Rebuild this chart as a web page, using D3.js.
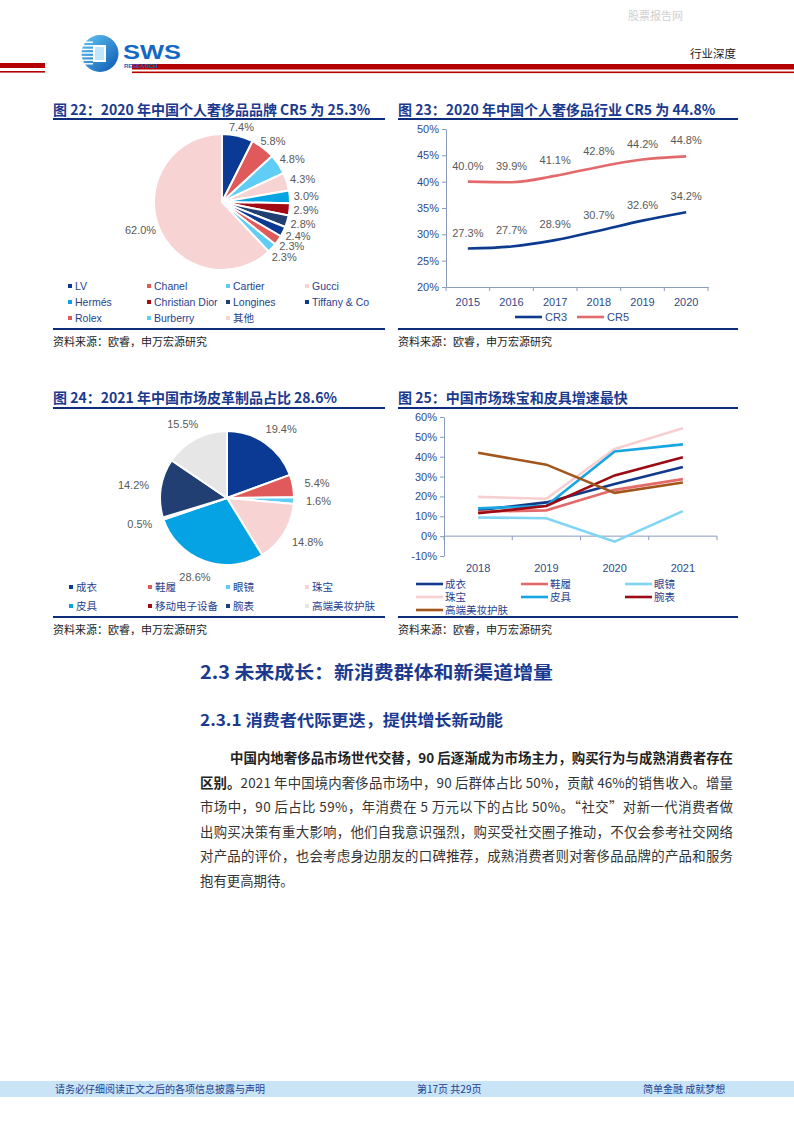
<!DOCTYPE html>
<html>
<head>
<meta charset="utf-8">
<script src="https://cdn.jsdelivr.net/npm/d3@7/dist/d3.min.js"></script>
<style>
  body { margin: 0; background: #fff; }
  svg { display: block; }
</style>
</head>
<body>
<script>
// ---- data ----
var brandNames = ["LV", "Chanel", "Cartier", "Gucci", "Hermés", "Christian Dior", "Longines", "Tiffany & Co", "Rolex", "Burberry", "其他"];
var brandShare = [7.4, 5.8, 4.8, 4.3, 3.0, 2.9, 2.8, 2.4, 2.3, 2.3, 62.0];
var brandColors = ["#0b3a94", "#e05a5c", "#5fcdf5", "#f7d3d4", "#05a3e3", "#a10a14", "#213f73", "#0b3a94", "#e05a5c", "#5fcdf5", "#f7d3d4"];

var crYears = ["2015", "2016", "2017", "2018", "2019", "2020"];
var cr3 = [27.3, 27.7, 28.9, 30.7, 32.6, 34.2];
var cr5 = [40.0, 39.9, 41.1, 42.8, 44.2, 44.8];
var crTicks = [20, 25, 30, 35, 40, 45, 50];

var catNames = ["成衣", "鞋履", "眼镜", "珠宝", "皮具", "移动电子设备", "腕表", "高端美妆护肤"];
var catShare = [19.4, 5.4, 1.6, 14.8, 28.6, 0.5, 14.2, 15.5];
var catColors = ["#0b3a94", "#e05a5c", "#5fcdf5", "#f7d3d4", "#05a3e3", "#a10a14", "#213f73", "#e6e6e6"];

var growthYears = ["2018", "2019", "2020", "2021"];
var gClothes = [13.1, 17.0, 26.2, 34.8];
var gShoes = [12.3, 13.0, 23.3, 28.7];
var gGlasses = [9.4, 9.0, -2.8, 12.6];
var gJewelry = [19.8, 18.8, 43.9, 54.3];
var gLeather = [14.0, 15.3, 42.6, 46.2];
var gWatch = [11.5, 15.2, 30.6, 39.7];
var gBeauty = [42.0, 36.0, 21.8, 27.0];
var growthTicks = [-10, 0, 10, 20, 30, 40, 50, 60];

var sourceText = "资料来源：欧睿，申万宏源研究";

// ---- page ----
var W = 794, H = 1123;
var cjk = "'Noto Sans CJK SC', 'Noto Sans', sans-serif";
var latin = "'Liberation Sans', Arial, sans-serif";
var navy = "#0c2d7a", titleBlue = "#1b3a8f", axisBlue = "#2f4a8a", labelGrey = "#595959";

var svg = d3.select("body").append("svg")
    .attr("width", W).attr("height", H);

// header
svg.append("text").attr("x", 628).attr("y", 20).text("股票报告网")
    .attr("font-family", cjk).attr("font-size", 11).attr("fill", "#d0d0d0");

svg.append("rect").attr("x", 0).attr("y", 63).attr("width", 45).attr("height", 5).attr("fill", "#b40000");
svg.append("rect").attr("x", 0).attr("y", 71).attr("width", 45).attr("height", 1.6).attr("fill", "#b40000");
svg.append("rect").attr("x", 132).attr("y", 64).attr("width", W - 132).attr("height", 5.5).attr("fill", "#b40000");
svg.append("rect").attr("x", 132).attr("y", 71.5).attr("width", W - 132).attr("height", 1.6).attr("fill", "#b40000");

var defs = svg.append("defs");
var grad = defs.append("linearGradient").attr("id", "logoGrad")
    .attr("x1", "0").attr("y1", "0").attr("x2", "1").attr("y2", "1");
grad.append("stop").attr("offset", "0").attr("stop-color", "#63c7f3");
grad.append("stop").attr("offset", "1").attr("stop-color", "#0a56b3");

var logo = svg.append("g");
logo.append("circle").attr("cx", 100).attr("cy", 53.5).attr("r", 18.5).attr("fill", "url(#logoGrad)");
logo.append("rect").attr("x", 93).attr("y", 45).attr("width", 13).attr("height", 17).attr("fill", "#ffffff");
logo.append("rect").attr("x", 95).attr("y", 47).attr("width", 9).attr("height", 13).attr("fill", "#bfe6fb");
d3.range(0, 7).forEach(function(i) {
  logo.append("rect").attr("x", 81).attr("y", 41.5 + i * 3.6).attr("width", 12).attr("height", 1.4).attr("fill", "#ffffff");
});
logo.append("text").attr("x", 123).attr("y", 59).text("SWS")
    .attr("font-family", latin).attr("font-weight", "bold").attr("font-size", 21)
    .attr("fill", "#1467c4").attr("textLength", 58).attr("lengthAdjust", "spacingAndGlyphs");
logo.append("text").attr("x", 124).attr("y", 68).text("RESEARCH")
    .attr("font-family", latin).attr("font-weight", "bold").attr("font-size", 6)
    .attr("fill", "#1467c4");

svg.append("text").attr("x", 690).attr("y", 58).text("行业深度")
    .attr("font-family", cjk).attr("font-size", 11.5).attr("fill", "#222");

// ---- helpers ----
function chartTitle(x, y, w, txt, lineY) {
  svg.append("text").attr("x", x).attr("y", y).text(txt)
      .attr("font-family", cjk).attr("font-weight", "bold").attr("font-size", 14)
      .attr("fill", titleBlue);
  svg.append("rect").attr("x", x).attr("y", lineY).attr("width", w).attr("height", 2).attr("fill", navy);
}
function chartSource(x, w, lineY) {
  svg.append("rect").attr("x", x).attr("y", lineY).attr("width", w).attr("height", 2).attr("fill", navy);
  svg.append("text").attr("x", x).attr("y", lineY + 18).text(sourceText)
      .attr("font-family", cjk).attr("font-size", 11).attr("fill", "#222");
}

function drawPie(cx, cy, r, values, colors, labOff) {
  var g = svg.append("g").attr("transform", "translate(" + cx + "," + cy + ")");
  var pie = d3.pie().sort(null).value(function(d) { return d; });
  var arc = d3.arc().innerRadius(0).outerRadius(r);
  var arcs = pie(values);
  g.selectAll("path").data(arcs).enter().append("path")
      .attr("d", arc)
      .attr("fill", function(d, i) { return colors[i]; })
      .attr("stroke", "#fff").attr("stroke-width", 2);
  var prev = null;
  arcs.forEach(function(a) {
    var m = (a.startAngle + a.endAngle) / 2;
    var s = Math.sin(m), c = -Math.cos(m);
    var t = g.append("text").text(a.data.toFixed(1) + "%")
        .attr("font-family", latin).attr("font-size", 11).attr("fill", labelGrey)
        .attr("text-anchor", "middle");
    var w = t.node().getComputedTextLength();
    var ly = (r + labOff) * c + c * 5 + 4;
    // keep stacked labels on the right side from colliding
    if (prev !== null && s > 0 && prev.s > 0 && ly < prev.y + 10.5) ly = prev.y + 10.5;
    t.attr("x", (r + labOff) * s + s * w / 2).attr("y", ly);
    prev = {s: s, y: ly};
  });
}

function squareLegend(names, colors, colX, rowY) {
  names.forEach(function(n, i) {
    var x = colX[i % 4], y = rowY[Math.floor(i / 4)];
    svg.append("rect").attr("x", x).attr("y", y - 2).attr("width", 4).attr("height", 4).attr("fill", colors[i]);
    svg.append("text").attr("x", x + 7).attr("y", y + 4).text(n)
        .attr("font-family", n.match(/[\u4e00-\u9fff]/) ? cjk : latin)
        .attr("font-size", 10.5).attr("fill", "#1f3f8f");
  });
}

function styleAxis(sel) {
  sel.selectAll(".domain").attr("stroke", "#8a9bbf");
  sel.selectAll(".tick line").attr("stroke", "#8a9bbf");
  sel.selectAll(".tick text").attr("font-family", latin).attr("font-size", 11).attr("fill", axisBlue);
}

// ---- Chart 22 ----
chartTitle(53, 115, 332, "图 22：2020 年中国个人奢侈品品牌 CR5 为 25.3%", 118);
drawPie(222, 202, 68, brandShare, brandColors, 4);
squareLegend(brandNames, brandColors, [68, 147, 226, 305], [286, 302, 318]);
chartSource(53, 332, 328);

// ---- Chart 23 ----
chartTitle(398, 115, 340, "图 23：2020 年中国个人奢侈品行业 CR5 为 44.8%", 118);
(function() {
  var x0 = 446, x1 = 708, yTop = 129, yBot = 287;
  var x = d3.scaleBand().domain(crYears).range([x0, x1]);
  var y = d3.scaleLinear().domain([20, 50]).range([yBot, yTop]);
  var ay = svg.append("g").attr("transform", "translate(" + x0 + ",0)")
      .call(d3.axisLeft(y).tickValues(crTicks).tickSize(4).tickSizeOuter(0)
        .tickFormat(function(d) { return d + "%"; }));
  styleAxis(ay);
  var ax = svg.append("g").attr("transform", "translate(0," + yBot + ")")
      .call(d3.axisBottom(x).tickSize(0).tickPadding(9));
  styleAxis(ax);
  ax.selectAll(".tick text").attr("dy", "0.9em");
  crYears.concat([null]).forEach(function(d) {
    var xx = d === null ? x1 : x(d);
    svg.append("line").attr("x1", xx).attr("x2", xx).attr("y1", yBot).attr("y2", yBot + 4)
        .attr("stroke", "#8a9bbf");
  });
  var line = d3.line()
      .x(function(d, i) { return x(crYears[i]) + x.bandwidth() / 2; })
      .y(function(d) { return y(d); })
      .curve(d3.curveMonotoneX);
  [[cr5, "#e36a6a"], [cr3, "#0c3a8e"]].forEach(function(s) {
    svg.append("path").attr("d", line(s[0])).attr("fill", "none")
        .attr("stroke", s[1]).attr("stroke-width", 2.6);
    s[0].forEach(function(v, i) {
      svg.append("text").attr("x", x(crYears[i]) + x.bandwidth() / 2).attr("y", y(v) - 12)
          .attr("text-anchor", "middle").text(v.toFixed(1) + "%")
          .attr("font-family", latin).attr("font-size", 11).attr("fill", labelGrey);
    });
  });
  [["CR3", "#0c3a8e", 515], ["CR5", "#e36a6a", 577]].forEach(function(l) {
    svg.append("line").attr("x1", l[2]).attr("x2", l[2] + 27).attr("y1", 317).attr("y2", 317)
        .attr("stroke", l[1]).attr("stroke-width", 2.6);
    svg.append("text").attr("x", l[2] + 30).attr("y", 321).text(l[0])
        .attr("font-family", latin).attr("font-size", 11).attr("fill", axisBlue);
  });
})();
chartSource(398, 340, 328);

// ---- Chart 24 ----
chartTitle(53, 403, 332, "图 24：2021 年中国市场皮革制品占比 28.6%", 407);
drawPie(227, 498, 67, catShare, catColors, 12);
squareLegend(catNames, catColors, [69, 148, 226, 305], [587, 606]);
chartSource(53, 332, 616);

// ---- Chart 25 ----
chartTitle(398, 403, 340, "图 25：中国市场珠宝和皮具增速最快", 407);
(function() {
  var x0 = 444, x1 = 717, yTop = 417, yBot = 556;
  var x = d3.scaleBand().domain(growthYears).range([x0, x1]);
  var y = d3.scaleLinear().domain([-10, 60]).range([yBot, yTop]);
  var ay = svg.append("g").attr("transform", "translate(" + x0 + ",0)")
      .call(d3.axisLeft(y).tickValues(growthTicks).tickSize(4).tickSizeOuter(0)
        .tickFormat(function(d) { return d + "%"; }));
  styleAxis(ay);
  svg.append("line").attr("x1", x0).attr("x2", x1).attr("y1", y(0)).attr("y2", y(0))
      .attr("stroke", "#8a9bbf");
  growthYears.concat([null]).forEach(function(d) {
    var xx = d === null ? x1 : x(d);
    svg.append("line").attr("x1", xx).attr("x2", xx).attr("y1", y(0)).attr("y2", y(0) + 4)
        .attr("stroke", "#8a9bbf");
  });
  growthYears.forEach(function(d) {
    svg.append("text").attr("x", x(d) + x.bandwidth() / 2).attr("y", yBot + 16)
        .attr("text-anchor", "middle").text(d)
        .attr("font-family", latin).attr("font-size", 11).attr("fill", axisBlue);
  });
  var series = [
    ["成衣", gClothes, "#123a8c"],
    ["鞋履", gShoes, "#e36a6a"],
    ["眼镜", gGlasses, "#7fd5f5"],
    ["珠宝", gJewelry, "#f8cfd0"],
    ["皮具", gLeather, "#17a6e2"],
    ["腕表", gWatch, "#9c0b13"],
    ["高端美妆护肤", gBeauty, "#a3561c"]
  ];
  var line = d3.line()
      .x(function(d, i) { return x(growthYears[i]) + x.bandwidth() / 2; })
      .y(function(d) { return y(d); });
  series.forEach(function(s) {
    svg.append("path").attr("d", line(s[1])).attr("fill", "none")
        .attr("stroke", s[2]).attr("stroke-width", 2.6);
  });
  var colX = [416, 521, 625], rowY = [584, 597, 610];
  series.forEach(function(s, i) {
    var lx = colX[i % 3], ly = rowY[Math.floor(i / 3)];
    svg.append("line").attr("x1", lx).attr("x2", lx + 27).attr("y1", ly).attr("y2", ly)
        .attr("stroke", s[2]).attr("stroke-width", 2.6);
    svg.append("text").attr("x", lx + 29).attr("y", ly + 4).text(s[0])
        .attr("font-family", cjk).attr("font-size", 10.5).attr("fill", "#1f3f8f");
  });
})();
chartSource(398, 340, 616);

// ---- body text ----
svg.append("text").attr("x", 200).attr("y", 679).text("2.3 未来成长：新消费群体和新渠道增量")
    .attr("font-family", cjk).attr("font-weight", "bold").attr("font-size", 18.5)
    .attr("fill", titleBlue).attr("textLength", 353).attr("lengthAdjust", "spacingAndGlyphs");
svg.append("text").attr("x", 200).attr("y", 726).text("2.3.1  消费者代际更迭，提供增长新动能")
    .attr("font-family", cjk).attr("font-weight", "bold").attr("font-size", 16)
    .attr("fill", titleBlue).attr("textLength", 303).attr("lengthAdjust", "spacingAndGlyphs");

var paraLines = [
  [{t: "中国内地奢侈品市场世代交替，90 后逐渐成为市场主力，购买行为与成熟消费者存在", b: true}],
  [{t: "区别。", b: true}, {t: "2021 年中国境内奢侈品市场中，90 后群体占比 50%，贡献 46%的销售收入。增量", b: false}],
  [{t: "市场中，90 后占比 59%，年消费在 5 万元以下的占比 50%。“社交”对新一代消费者做", b: false}],
  [{t: "出购买决策有重大影响，他们自我意识强烈，购买受社交圈子推动，不仅会参考社交网络", b: false}],
  [{t: "对产品的评价，也会考虑身边朋友的口碑推荐，成熟消费者则对奢侈品品牌的产品和服务", b: false}],
  [{t: "抱有更高期待。", b: false}]
];
paraLines.forEach(function(parts, i) {
  var startX = i === 0 ? 230 : 200;
  var t = svg.append("text").attr("x", startX).attr("y", 763 + i * 24.6)
      .attr("font-family", cjk).attr("font-size", 13.4).attr("fill", "#333");
  parts.forEach(function(p) {
    t.append("tspan").text(p.t).attr("font-weight", p.b ? "bold" : "normal")
        .attr("fill", p.b ? "#222" : "#333");
  });
  if (i < paraLines.length - 1) {
    t.attr("textLength", 733 - startX).attr("lengthAdjust", "spacing");
  }
});

// ---- footer ----
svg.append("rect").attr("x", 0).attr("y", 1081).attr("width", W).attr("height", 16).attr("fill", "#c8e4f6");
[["请务必仔细阅读正文之后的各项信息披露与声明", 55], ["第17页 共29页", 417], ["简单金融 成就梦想", 643]]
  .forEach(function(f) {
    svg.append("text").attr("x", f[1]).attr("y", 1093).text(f[0])
        .attr("font-family", cjk).attr("font-size", 10).attr("fill", "#1f3f8f");
  });
</script>
</body>
</html>
